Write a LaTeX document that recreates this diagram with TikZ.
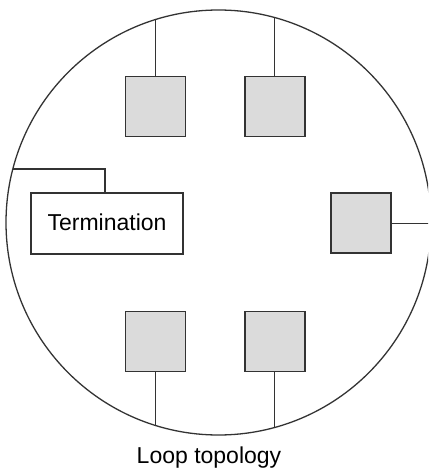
\documentclass[tikz,border=0pt]{standalone}
\usepackage{fontspec}
\setmainfont{Liberation Sans}
\begin{document}
\begin{tikzpicture}[x=1pt,y=-1pt,
  wire/.style={draw=black!80,line width=1.3pt},
  station/.style={draw=black!80,line width=1.6pt,fill=black!14!white,minimum width=60pt,minimum height=60pt,inner sep=0pt},
  termbox/.style={draw=black!80,line width=1.6pt,fill=white,minimum width=152pt,minimum height=61pt,inner sep=0pt,font=\fontsize{23}{27}\selectfont},
  caption/.style={font=\fontsize{23}{27}\selectfont,inner sep=0pt}]
\useasboundingbox (0,0) rectangle (428,470);
\clip (0,0) rectangle (428,470);
\node[circle,draw=black!80,line width=1.3pt,minimum size=425pt,inner sep=0pt] (ring) at (218.5,222.5) {};
\node[station] (s1) at (155.5,106.7) {};
\node[station] (s2) at (274.7,106.7) {};
\node[station] (s3) at (361,223.2) {};
\node[station] (s4) at (155.5,341.3) {};
\node[station] (s5) at (274.7,341.3) {};
\node[termbox] (term) at (107,223.3) {\raisebox{1.5pt}{Termination}};
\node[caption] (cap) at (209,458) {Loop topology};
\coordinate (bend) at (105,169);
\draw[wire] (s1.north) -- (s1.north |- ring.107.4);
\draw[wire] (s2.north) -- (s2.north |- ring.74.5);
\draw[wire] (s4.south) -- (s4.south |- ring.252.6);
\draw[wire] (s5.south) -- (s5.south |- ring.285.5);
\draw[wire] (s3.east) -- (s3.east -| ring.east);
\draw[wire] (term.north -| bend) -- (bend) -- (bend -| ring.165.4);
\end{tikzpicture}
\end{document}
